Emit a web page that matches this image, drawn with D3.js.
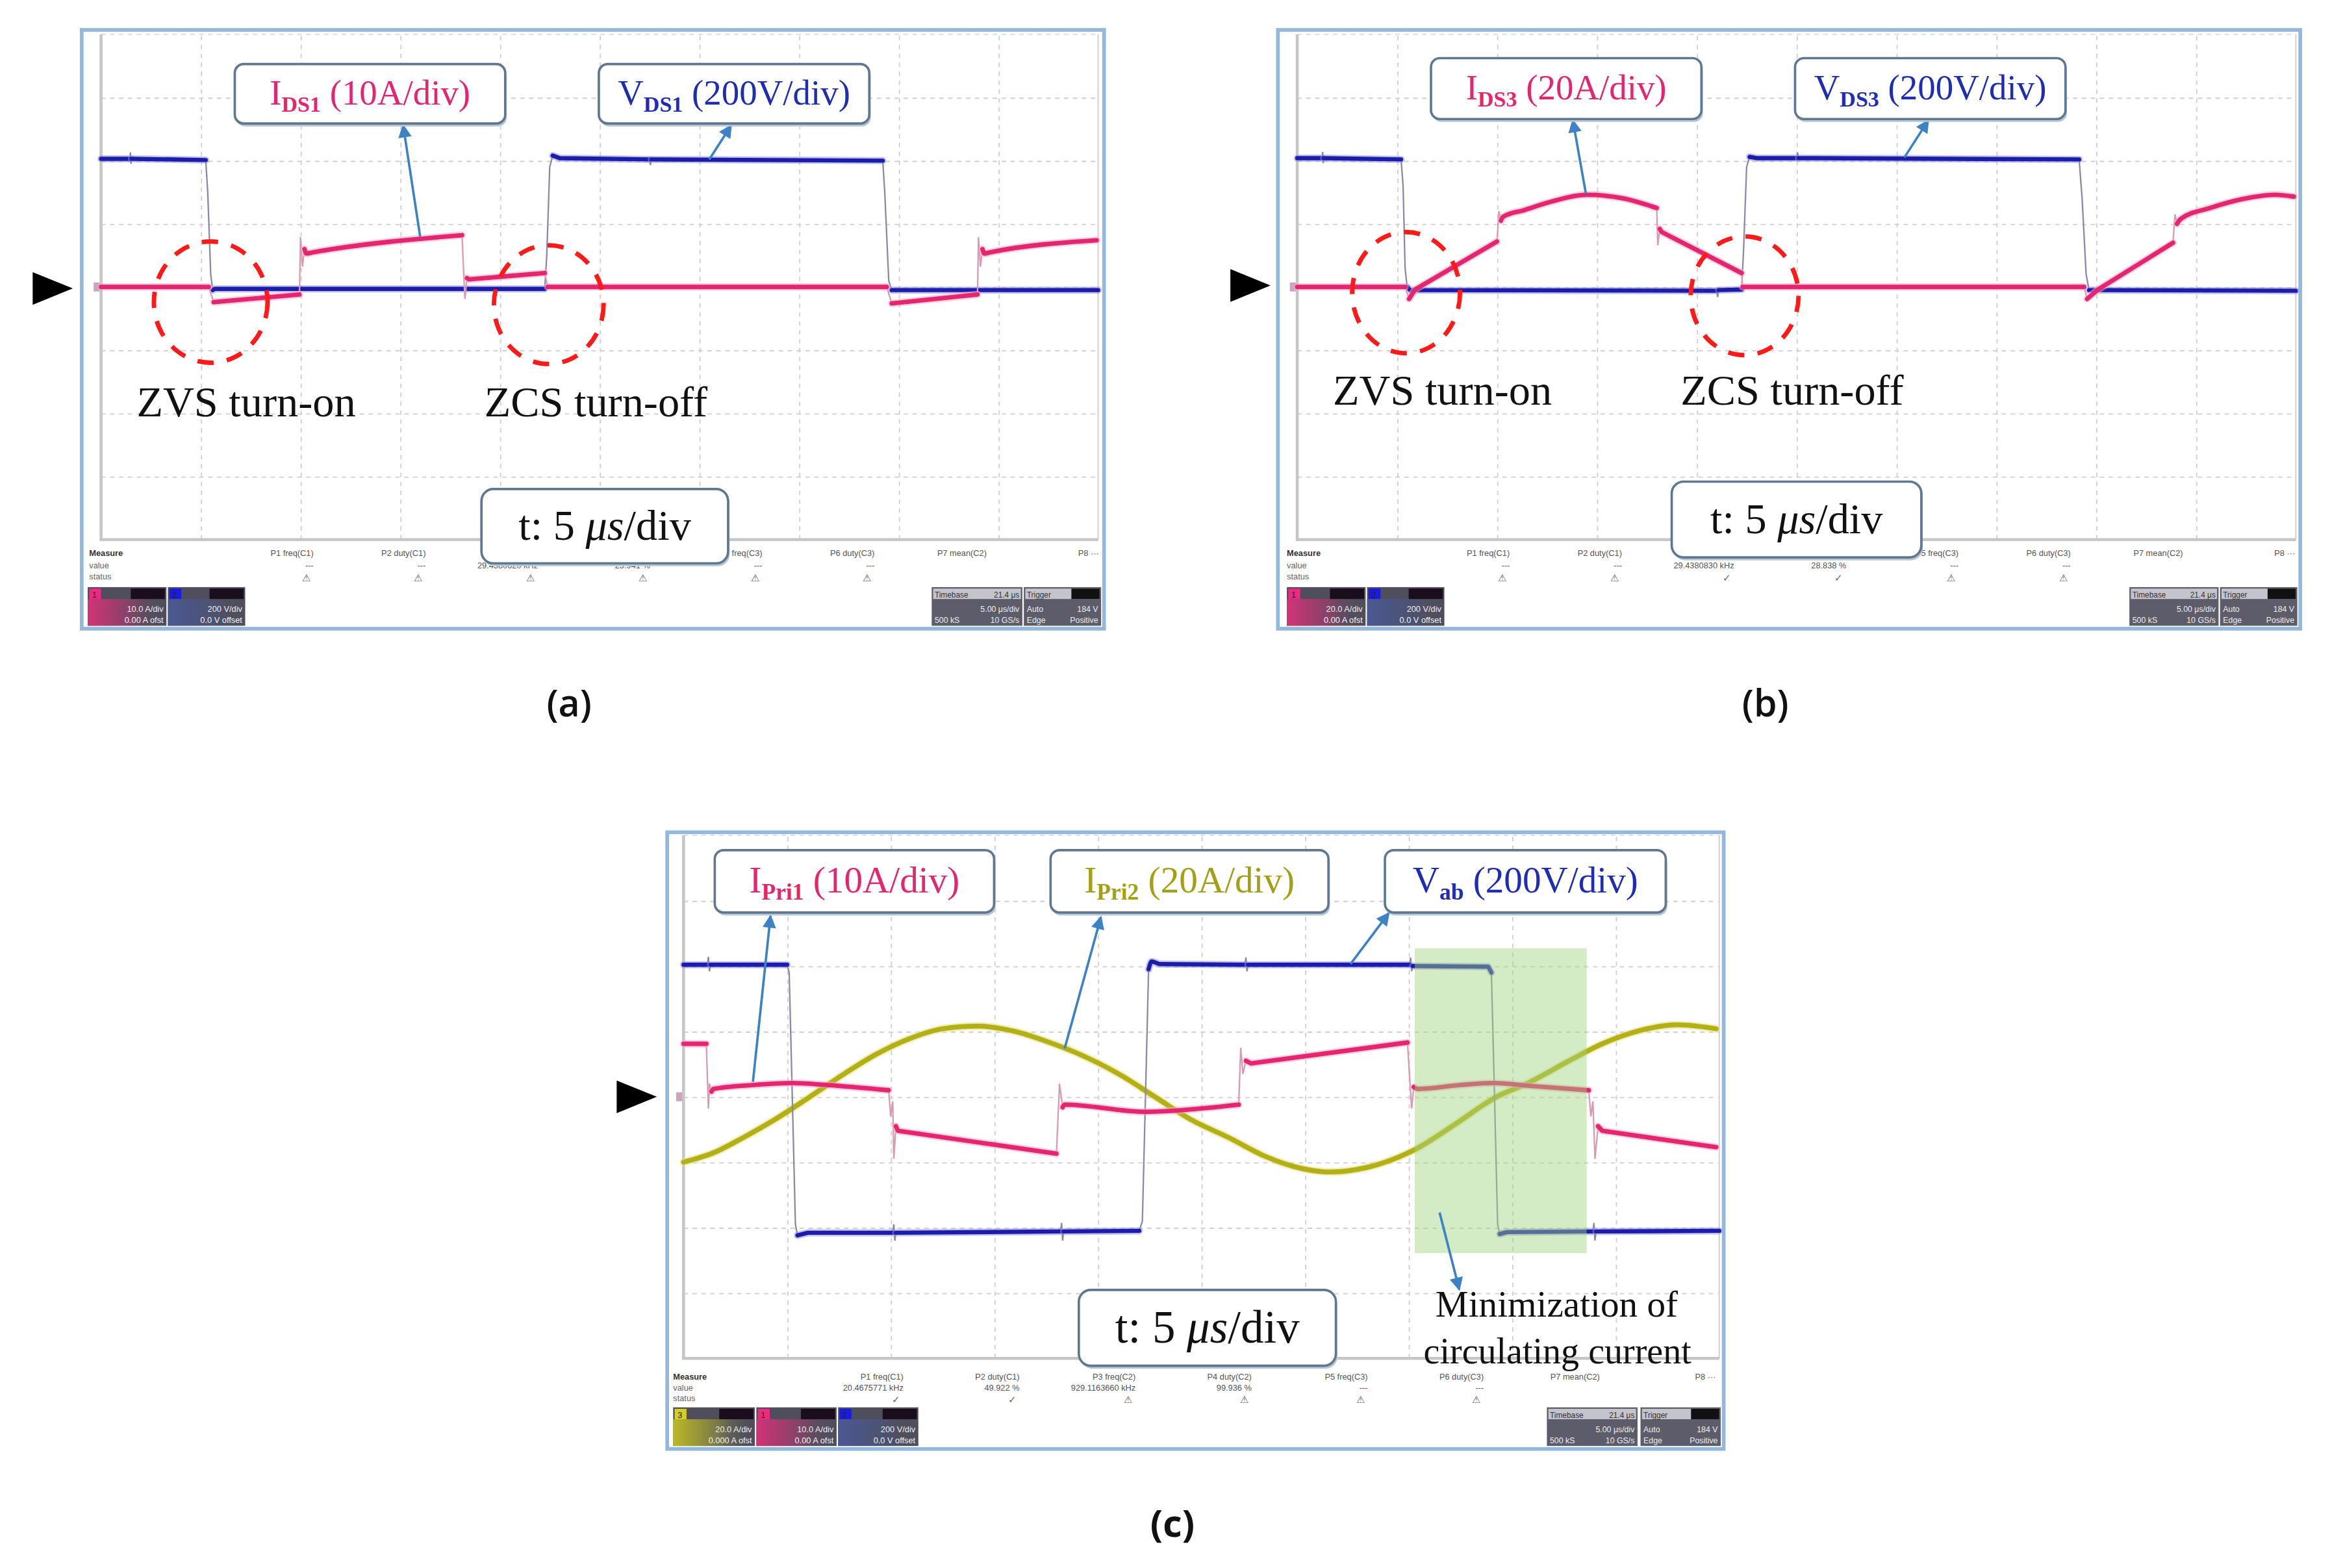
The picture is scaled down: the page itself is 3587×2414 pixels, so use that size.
<!DOCTYPE html>
<html>
<head>
<meta charset="utf-8">
<script src="https://cdn.jsdelivr.net/npm/d3@7"></script>
<style>
  body { margin: 0; background: #fff; }
  svg { display: block; }
</style>
</head>
<body>
<div id="chart"></div>
<script>
// Scope traces, x in divisions (0..10), y in divisions from the channel zero marker
const aVds1 = [[0, 2.03], [0.29, 2.03], [0.295, 2.13], [0.3, 1.95], [0.305, 2.03], [1.05, 2.01], [1.07, 1.5], [1.1, 0.2], [1.12, -0.05], [1.14, -0.03],
  [4.45, -0.03], [4.47, 0.5], [4.5, 1.9], [4.53, 2.08], [4.6, 2.04], [5.5, 2.02], [5.51, 1.93], [5.52, 2.02],
  [7.84, 2.0], [7.86, 1.5], [7.9, 0.1], [7.93, -0.05], [10, -0.05]];
const aIds1 = [[0, 0], [1.08, 0], [1.13, -0.24], [1.99, -0.12], [2.0, 0.79], [2.02, 0.32], [2.04, 0.6], [2.06, 0.53], [2.13, 0.55], [3.62, 0.82],
  [3.64, 0.12], [3.65, -0.19], [3.67, 0.14], [3.69, 0.12], [4.45, 0.22], [4.48, 0], [7.88, 0], [7.93, -0.26], [8.79, -0.12],
  [8.8, 0.79], [8.82, 0.32], [8.84, 0.6], [8.86, 0.53], [8.92, 0.55], [9.985, 0.74]];

const bVds3 = [[0, 2.04], [0.25, 2.04], [0.255, 2.14], [0.26, 1.96], [0.265, 2.04], [1.04, 2.02], [1.06, 1.6], [1.08, 0.3], [1.1, 0], [1.13, -0.05],
  [4.2, -0.06], [4.21, -0.16], [4.22, -0.05], [4.45, -0.04], [4.47, 0.6], [4.5, 1.9], [4.53, 2.06], [4.6, 2.04], [5.0, 2.04], [5.01, 2.13], [5.02, 2.04],
  [7.83, 2.02], [7.86, 1.4], [7.9, 0.2], [7.93, -0.05], [10, -0.06]];
const bIds3 = [[0, 0], [1.08, 0], [1.12, -0.19], [1.18, -0.04], [2.0, 0.72], [2.02, 1.2], [2.04, 1.05], [2.06, 1.11], [2.28, 1.22], [2.54, 1.35],
  [2.91, 1.46], [3.27, 1.4], [3.6, 1.25], [3.61, 0.66], [3.63, 0.92], [3.65, 0.87], [4.45, 0.22], [4.46, 0], [7.88, 0], [7.91, -0.19],
  [8.02, -0.04], [8.77, 0.7], [8.79, 1.15], [8.81, 1.0], [8.85, 1.08], [9.14, 1.25], [9.46, 1.39], [9.79, 1.46], [9.98, 1.43]];

const cVab = [[0, 2.02], [0.23, 2.02], [0.24, 2.14], [0.25, 1.92], [0.26, 2.02], [1.0, 2.02], [1.02, 1.9], [1.05, 0], [1.08, -1.95], [1.1, -2.12],
  [1.2, -2.08], [2.02, -2.08], [2.03, -1.95], [2.04, -2.2], [2.05, -2.08], [3.64, -2.06], [3.65, -1.93], [3.66, -2.2], [3.67, -2.06],
  [4.4, -2.05], [4.43, -1.9], [4.46, 0], [4.49, 1.95], [4.52, 2.07], [4.6, 2.03], [5.42, 2.02], [5.43, 2.13], [5.44, 1.92], [5.45, 2.02],
  [7.01, 2.02], [7.02, 2.13], [7.03, 1.92], [7.04, 2.0], [7.77, 1.99], [7.8, 1.9], [7.83, 0], [7.86, -1.95], [7.88, -2.1], [7.95, -2.07],
  [8.78, -2.06], [8.79, -1.93], [8.8, -2.2], [8.81, -2.06], [10, -2.05]];
const cIpri1 = [[0, 0.81], [0.22, 0.81], [0.23, 0.3], [0.24, -0.18], [0.25, 0.2], [0.27, 0.08], [0.29, 0.12], [0.67, 0.18], [1.05, 0.21], [1.38, 0.18],
  [1.98, 0.1], [2.0, -0.3], [2.02, -0.07], [2.03, -0.95], [2.05, -0.45], [2.07, -0.52], [3.6, -0.87], [3.63, 0.2], [3.66, -0.16], [3.68, -0.12],
  [4.46, -0.23], [4.99, -0.18], [5.36, -0.12], [5.38, 0.75], [5.4, 0.35], [5.43, 0.55], [5.48, 0.51], [6.99, 0.83], [7.01, 0.3], [7.03, -0.18],
  [7.05, 0.15], [7.09, 0.12], [7.5, 0.18], [7.82, 0.21], [8.22, 0.16], [8.74, 0.1], [8.76, -0.3], [8.78, -0.07], [8.8, -0.95], [8.83, -0.45],
  [8.87, -0.52], [9.97, -0.77]];
const cIpri2 = [[0, -1.0], [0.3, -0.85], [0.57, -0.63], [0.9, -0.33], [1.22, 0], [1.55, 0.35], [1.86, 0.65], [2.2, 0.9], [2.5, 1.04], [2.84, 1.08],
  [3.2, 1.0], [3.5, 0.85], [3.81, 0.66], [4.2, 0.35], [4.55, 0], [4.9, -0.35], [5.27, -0.63], [5.6, -0.9], [5.9, -1.07], [6.25, -1.15],
  [6.6, -1.08], [7.07, -0.8], [7.45, -0.42], [7.85, 0], [8.14, 0.2], [8.55, 0.55], [8.87, 0.81], [9.25, 1.02], [9.6, 1.1], [9.97, 1.04]];

// measurement bar texts
const headsAB = ['P1 freq(C1)', 'P2 duty(C1)', 'P3 freq(C3)', 'P4 duty(C3)', 'P5 freq(C3)', 'P6 duty(C3)', 'P7 mean(C2)', 'P8 ···'];
const headsC = ['P1 freq(C1)', 'P2 duty(C1)', 'P3 freq(C2)', 'P4 duty(C2)', 'P5 freq(C3)', 'P6 duty(C3)', 'P7 mean(C2)', 'P8 ···'];
const valsA = ['---', '---', '29.4380620 kHz', '23.941 %', '---', '---', '', ''];
const valsB = ['---', '---', '29.4380830 kHz', '28.838 %', '---', '---', '', ''];
const valsC = ['20.4675771 kHz', '49.922 %', '929.1163660 kHz', '99.936 %', '---', '---', '', ''];
const statA = ['⚠', '⚠', '⚠', '⚠', '⚠', '⚠'];
const statB = ['⚠', '⚠', '✓', '✓', '⚠', '⚠'];
const statC = ['✓', '✓', '⚠', '⚠', '⚠', '⚠'];

const PINK = '#e3266f', BLUE = '#1c1ca8', OLIVE = '#b2af18';
const TRACE = {
  blue: { core: BLUE, halo: '#9090e6', edge: '#8a8aa6', w: 2.8 },
  pink: { core: PINK, halo: '#f7a9c8', edge: '#d99ab4', w: 3 },
  yellow: { core: OLIVE, halo: '#e4e47e', edge: '#c8c870', w: 3.3 }
};
const SERIF = 'Liberation Serif, Times New Roman, serif';
const SANS = 'Liberation Sans, Arial, sans-serif';

const W = 1568, H = 1055;
const svg = d3.select('#chart').append('svg')
  .attr('width', 3587).attr('height', 2414)
  .attr('viewBox', `0 0 ${W} ${H}`);
svg.append('rect').attr('width', W).attr('height', H).attr('fill', '#fff');

const defs = svg.append('defs');
defs.append('marker').attr('id', 'arrowBlue')
  .attr('viewBox', '0 0 10 10').attr('refX', 9).attr('refY', 5)
  .attr('markerWidth', 11).attr('markerHeight', 9).attr('markerUnits', 'userSpaceOnUse')
  .attr('orient', 'auto')
  .append('path').attr('d', 'M0,0 L10,5 L0,10 Z').attr('fill', '#3d82c4');

function chipGradient(id, color) {
  const gr = defs.append('linearGradient').attr('id', id).attr('x1', 0).attr('x2', 1).attr('y1', 0).attr('y2', 0);
  gr.append('stop').attr('offset', '0%').attr('stop-color', color).attr('stop-opacity', 0.9);
  gr.append('stop').attr('offset', '55%').attr('stop-color', color).attr('stop-opacity', 0.35);
  gr.append('stop').attr('offset', '100%').attr('stop-color', '#505060').attr('stop-opacity', 0);
}
chipGradient('gPink', '#e0307a');
chipGradient('gBlue', '#4a5a9a');
chipGradient('gYel', '#c8c422');

function drawTrace(g, x, y, pts, st) {
  const line = d3.line().x((d) => x(d[0])).y((d) => y(d[1]));
  // fast edges show up as thin faint lines on the scope
  g.append('path').datum(pts).attr('d', line)
    .attr('fill', 'none').attr('stroke', st.edge).attr('stroke-width', 1);

  const runs = [];
  let cur = [pts[0]];
  for (let i = 1; i < pts.length; i++) {
    const dx = Math.abs(x(pts[i][0]) - x(pts[i - 1][0]));
    const dy = Math.abs(y(pts[i][1]) - y(pts[i - 1][1]));
    if (dy <= 2.5 * dx + 0.5) cur.push(pts[i]);
    else {
      if (cur.length > 1) runs.push(cur);
      cur = [pts[i]];
    }
  }
  if (cur.length > 1) runs.push(cur);

  const smooth = d3.line().x((d) => x(d[0])).y((d) => y(d[1])).curve(d3.curveMonotoneX);
  runs.forEach((r) => {
    const gen = r.length > 3 ? smooth : line; // short runs are straight ramps
    g.append('path').datum(r).attr('d', gen).attr('fill', 'none')
      .attr('stroke', st.halo).attr('stroke-width', st.w + 2).attr('stroke-opacity', 0.55)
      .attr('stroke-linecap', 'round').attr('stroke-linejoin', 'round');
    g.append('path').datum(r).attr('d', gen).attr('fill', 'none')
      .attr('stroke', st.core).attr('stroke-width', st.w)
      .attr('stroke-linecap', 'round').attr('stroke-linejoin', 'round');
  });
}

function labelBox(g, b) {
  g.append('rect').attr('x', b.x + 1).attr('y', b.y + 2).attr('width', b.w).attr('height', b.h)
    .attr('rx', 6).attr('fill', '#b8c6d4');
  g.append('rect').attr('x', b.x).attr('y', b.y).attr('width', b.w).attr('height', b.h)
    .attr('rx', 6).attr('fill', '#fff').attr('stroke', '#5d7890').attr('stroke-width', 1.6);
  const fs = b.fs;
  const t = g.append('text').attr('x', b.x + b.w / 2).attr('y', b.y + b.h / 2 + fs * 0.3)
    .attr('text-anchor', 'middle').attr('font-family', SERIF).attr('font-size', fs).attr('fill', b.color);
  t.append('tspan').text(b.main);
  t.append('tspan').attr('font-size', fs * 0.62).attr('font-weight', 'bold').attr('dy', fs * 0.2).text(b.sub);
  t.append('tspan').attr('dy', -fs * 0.2).text(' ' + b.rest);
}

function timeBox(g, tb) {
  g.append('rect').attr('x', tb.x + 1).attr('y', tb.y + 2).attr('width', tb.w).attr('height', tb.h)
    .attr('rx', 8).attr('fill', '#b8c6d4');
  g.append('rect').attr('x', tb.x).attr('y', tb.y).attr('width', tb.w).attr('height', tb.h)
    .attr('rx', 8).attr('fill', '#fff').attr('stroke', '#5d7890').attr('stroke-width', 1.6);
  const t = g.append('text').attr('x', tb.x + tb.w / 2).attr('y', tb.y + tb.h / 2 + tb.fs * 0.32)
    .attr('text-anchor', 'middle').attr('font-family', SERIF).attr('font-size', tb.fs).attr('fill', '#111');
  t.append('tspan').text('t: 5 ');
  t.append('tspan').attr('font-style', 'italic').text('μs');
  t.append('tspan').text('/div');
}

function smallText(g, x, y, s, opts = {}) {
  return g.append('text').attr('x', x).attr('y', y).text(s)
    .attr('font-family', SANS).attr('font-size', opts.fs || 5.6)
    .attr('font-weight', opts.bold ? 'bold' : 'normal')
    .attr('text-anchor', opts.anchor || 'start')
    .attr('fill', opts.fill || '#555');
}

function leftChip(g, c, y, h) {
  g.append('rect').attr('x', c.x).attr('y', y).attr('width', c.w).attr('height', h).attr('fill', '#4e4e5c');
  g.append('rect').attr('x', c.x).attr('y', y + 8).attr('width', c.w).attr('height', h - 8).attr('fill', `url(#${c.grad})`);
  g.append('rect').attr('x', c.x + 1).attr('y', y + 1).attr('width', 8).attr('height', 7).attr('fill', c.color);
  g.append('rect').attr('x', c.x + c.w - 24).attr('y', y + 1).attr('width', 23).attr('height', 7).attr('fill', '#1a0d1c');
  smallText(g, c.x + 3, y + 7, c.n, { fs: 5.5, fill: '#222' });
  smallText(g, c.x + c.w - 2, y + h * 0.64, c.l1, { fs: 5.6, fill: '#eee', anchor: 'end' });
  smallText(g, c.x + c.w - 2, y + h - 2, c.l2, { fs: 5.6, fill: '#f4f4f4', anchor: 'end' });
}

function rightChips(g, r, y, h) {
  g.append('rect').attr('x', r.x1).attr('y', y).attr('width', r.w1).attr('height', h).attr('fill', '#5c5c6a');
  g.append('rect').attr('x', r.x1 + 1).attr('y', y + 1).attr('width', r.w1 - 2).attr('height', 7).attr('fill', '#c4c4cc');
  smallText(g, r.x1 + 2, y + 7, 'Timebase', { fs: 5.2, fill: '#333' });
  smallText(g, r.x1 + r.w1 - 2, y + 7, '21.4 μs', { fs: 5.2, fill: '#333', anchor: 'end' });
  smallText(g, r.x1 + r.w1 - 2, y + h * 0.64, '5.00 μs/div', { fs: 5.4, fill: '#eee', anchor: 'end' });
  smallText(g, r.x1 + 2, y + h - 2, '500 kS', { fs: 5.4, fill: '#eee' });
  smallText(g, r.x1 + r.w1 - 2, y + h - 2, '10 GS/s', { fs: 5.4, fill: '#eee', anchor: 'end' });

  g.append('rect').attr('x', r.x2).attr('y', y).attr('width', r.w2).attr('height', h).attr('fill', '#5c5c6a');
  g.append('rect').attr('x', r.x2 + 1).attr('y', y + 1).attr('width', r.w2 - 2).attr('height', 7).attr('fill', '#c4c4cc');
  g.append('rect').attr('x', r.x2 + r.w2 - 20).attr('y', y + 1).attr('width', 19).attr('height', 7).attr('fill', '#111');
  smallText(g, r.x2 + 2, y + 7, 'Trigger', { fs: 5.2, fill: '#333' });
  smallText(g, r.x2 + 2, y + h * 0.64, 'Auto', { fs: 5.4, fill: '#eee' });
  smallText(g, r.x2 + r.w2 - 2, y + h * 0.64, '184 V', { fs: 5.4, fill: '#eee', anchor: 'end' });
  smallText(g, r.x2 + 2, y + h - 2, 'Edge', { fs: 5.4, fill: '#eee' });
  smallText(g, r.x2 + r.w2 - 2, y + h - 2, 'Positive', { fs: 5.4, fill: '#eee', anchor: 'end' });
}

function drawStatus(g, s) {
  ['Measure', 'value', 'status'].forEach((lab, i) => {
    smallText(g, s.labelX, s.rowY[i], lab, { bold: i === 0, fill: i === 0 ? '#333' : '#666' });
  });
  s.heads.forEach((h, i) => {
    const xr = s.headX + i * s.headDx;
    smallText(g, xr, s.rowY[0], h, { anchor: 'end' });
    if (s.vals[i]) smallText(g, xr, s.rowY[1], s.vals[i], { anchor: 'end' });
    if (s.stats[i]) smallText(g, xr - 5, s.rowY[2] + 1, s.stats[i], { anchor: 'middle', fs: 6.5, fill: '#666' });
  });
  s.chips.forEach((c) => leftChip(g, c, s.chipY, s.chipH));
  rightChips(g, s.right, s.chipY, s.chipH);
}

function drawPanel(p) {
  const g = svg.append('g');
  const [fx, fy, fw, fh] = p.frame;
  g.append('rect').attr('x', fx).attr('y', fy).attr('width', fw).attr('height', fh)
    .attr('fill', '#fff').attr('stroke', '#94b8dc').attr('stroke-width', 2.5);

  const [x0, x1, y0, y1] = p.plot;
  const x = d3.scaleLinear().domain([0, 10]).range([x0, x1]);
  const y = d3.scaleLinear().domain([-4, 4]).range([y1, y0]);

  // graticule
  const gx = g.append('g').attr('transform', `translate(0,${y1})`)
    .call(d3.axisBottom(x).tickValues(d3.range(1, 10)).tickSize(-(y1 - y0)).tickFormat(''));
  const gy = g.append('g').attr('transform', `translate(${x0},0)`)
    .call(d3.axisLeft(y).tickValues(d3.range(-3, 4)).tickSize(-(x1 - x0)).tickFormat(''));
  [gx, gy].forEach((a) => {
    a.select('.domain').remove();
    a.selectAll('line').attr('stroke', '#d0d0d0').attr('stroke-width', 0.8).attr('stroke-dasharray', '3,3');
  });
  g.append('line').attr('x1', x0).attr('x2', x1).attr('y1', y0).attr('y2', y0)
    .attr('stroke', '#dcdcdc').attr('stroke-width', 0.8).attr('stroke-dasharray', '3,3');
  g.append('line').attr('x1', x1).attr('x2', x1).attr('y1', y0).attr('y2', y1)
    .attr('stroke', '#d6d6d6').attr('stroke-width', 1);
  g.append('path').attr('d', `M${x0},${y0}V${y1}H${x1}`)
    .attr('fill', 'none').attr('stroke', '#c6c6c6').attr('stroke-width', 2);

  // channel zero marker
  g.append('rect').attr('x', x0 - 5).attr('y', y(0) - 3).attr('width', 4).attr('height', 6).attr('fill', '#c9a6bb');

  p.series.forEach((s) => drawTrace(g, x, y, s.pts, TRACE[s.st]));

  if (p.highlight) {
    const [hx0, hx1, hy0, hy1] = p.highlight;
    g.append('rect').attr('x', x(hx0)).attr('y', y(hy0)).attr('width', x(hx1) - x(hx0)).attr('height', y(hy1) - y(hy0))
      .attr('fill', '#9fd47f').attr('fill-opacity', 0.45);
  }

  (p.rings || []).forEach(([cx, cy, rx, ry]) => {
    g.append('ellipse').attr('cx', x(cx)).attr('cy', y(cy))
      .attr('rx', x(rx) - x(0)).attr('ry', y(0) - y(ry))
      .attr('fill', 'none').attr('stroke', '#ff1a1a').attr('stroke-width', 3)
      .attr('stroke-dasharray', '11,9');
  });

  p.arrows.forEach(([fxd, fyd, txd, tyd]) => {
    g.append('line').attr('x1', x(fxd)).attr('y1', y(fyd)).attr('x2', x(txd)).attr('y2', y(tyd))
      .attr('stroke', '#3d82c4').attr('stroke-width', 1.6).attr('marker-end', 'url(#arrowBlue)');
  });

  p.boxes.forEach((b) => labelBox(g, b));

  p.notes.forEach((n) => {
    g.append('text').attr('x', n.x).attr('y', n.y).text(n.t)
      .attr('font-family', SERIF).attr('font-size', n.fs).attr('fill', '#111');
  });

  drawStatus(g, p.status);
  timeBox(g, p.time);
  if (p.after) p.after(g);

  // trigger position arrow
  const [tx0, tx1, ty] = p.trig;
  g.append('path').attr('d', `M${tx0},${ty - 11}L${tx1},${ty}L${tx0},${ty + 11}Z`).attr('fill', '#000');

  g.append('text').attr('x', p.sub.x).attr('y', p.sub.y).text(p.sub.t)
    .attr('text-anchor', 'middle').attr('font-family', 'Open Sans, sans-serif')
    .attr('font-size', 25).attr('font-weight', p.sub.w).attr('fill', '#111');
}

const panels = [
  {
    frame: [55, 20, 688, 403], plot: [68, 739, 23, 363],
    series: [{ pts: aVds1, st: 'blue' }, { pts: aIds1, st: 'pink' }],
    rings: [[1.1, -0.24, 0.57, 0.96], [4.49, -0.28, 0.55, 0.94]],
    arrows: [[3.2, 0.8, 3.03, 2.56], [6.1, 2.02, 6.32, 2.56]],
    boxes: [
      { x: 158, y: 43, w: 182, h: 40, main: 'I', sub: 'DS1', rest: '(10A/div)', color: PINK, fs: 24 },
      { x: 403, y: 43, w: 182, h: 40, main: 'V', sub: 'DS1', rest: '(200V/div)', color: '#1f2db4', fs: 24 }
    ],
    notes: [{ x: 92, y: 280, t: 'ZVS turn-on', fs: 29 }, { x: 326, y: 280, t: 'ZCS turn-off', fs: 29 }],
    time: { x: 324, y: 329, w: 166, h: 50, fs: 29 },
    status: {
      labelX: 60, rowY: [374, 382.5, 390], heads: headsAB, vals: valsA, stats: statA, headX: 211, headDx: 75.5,
      chipY: 395, chipH: 26,
      chips: [
        { x: 59, w: 53, color: '#ee2a80', grad: 'gPink', n: '1', l1: '10.0 A/div', l2: '0.00 A ofst' },
        { x: 113, w: 52, color: '#1a1ae0', grad: 'gBlue', n: '2', l1: '200 V/div', l2: '0.0 V offset' }
      ],
      right: { x1: 627, w1: 61, x2: 689, w2: 52 }
    },
    trig: [22, 49, 194], sub: { t: '(a)', x: 383, y: 482, w: 600 }
  },
  {
    frame: [860, 20, 688, 403], plot: [873, 1545, 23, 363],
    series: [{ pts: bVds3, st: 'blue' }, { pts: bIds3, st: 'pink' }],
    rings: [[1.09, -0.09, 0.54, 0.96], [4.48, -0.14, 0.54, 0.94]],
    arrows: [[2.89, 1.48, 2.76, 2.64], [6.08, 2.05, 6.32, 2.64]],
    boxes: [
      { x: 963, y: 39, w: 182, h: 41, main: 'I', sub: 'DS3', rest: '(20A/div)', color: PINK, fs: 24 },
      { x: 1208, y: 39, w: 182, h: 41, main: 'V', sub: 'DS3', rest: '(200V/div)', color: '#1f2db4', fs: 24 }
    ],
    notes: [{ x: 897, y: 272, t: 'ZVS turn-on', fs: 29 }, { x: 1131, y: 272, t: 'ZCS turn-off', fs: 29 }],
    time: { x: 1125, y: 324, w: 168, h: 51, fs: 29 },
    status: {
      labelX: 866, rowY: [374, 382.5, 390], heads: headsAB, vals: valsB, stats: statB, headX: 1016, headDx: 75.5,
      chipY: 395, chipH: 26,
      chips: [
        { x: 866, w: 53, color: '#ee2a80', grad: 'gPink', n: '1', l1: '20.0 A/div', l2: '0.00 A ofst' },
        { x: 920, w: 52, color: '#1a1ae0', grad: 'gBlue', n: '2', l1: '200 V/div', l2: '0.0 V offset' }
      ],
      right: { x1: 1433, w1: 60, x2: 1494, w2: 52 }
    },
    trig: [828, 855, 192], sub: { t: '(b)', x: 1188, y: 482, w: 600 }
  },
  {
    frame: [449, 560, 711, 415], plot: [460, 1157, 562, 914],
    series: [{ pts: cIpri2, st: 'yellow' }, { pts: cVab, st: 'blue' }, { pts: cIpri1, st: 'pink' }],
    highlight: [7.06, 8.72, 2.27, -2.39],
    arrows: [[0.67, 0.23, 0.84, 2.77], [3.68, 0.74, 4.03, 2.75], [6.44, 2.03, 6.81, 2.81], [7.3, -1.77, 7.49, -2.95]],
    boxes: [
      { x: 481, y: 572, w: 188, h: 42, main: 'I', sub: 'Pri1', rest: '(10A/div)', color: PINK, fs: 25 },
      { x: 707, y: 572, w: 187, h: 42, main: 'I', sub: 'Pri2', rest: '(20A/div)', color: '#a3a016', fs: 25 },
      { x: 932, y: 572, w: 189, h: 42, main: 'V', sub: 'ab', rest: '(200V/div)', color: '#1f2db4', fs: 25 }
    ],
    notes: [],
    time: { x: 726, y: 868, w: 173, h: 51, fs: 31 },
    status: {
      labelX: 453, rowY: [928.5, 936, 943], heads: headsC, vals: valsC, stats: statC, headX: 608, headDx: 78.1,
      chipY: 947, chipH: 26,
      chips: [
        { x: 453, w: 55, color: '#d4d020', grad: 'gYel', n: '3', l1: '20.0 A/div', l2: '0.000 A ofst' },
        { x: 509, w: 54, color: '#ee2a80', grad: 'gPink', n: '1', l1: '10.0 A/div', l2: '0.00 A ofst' },
        { x: 564, w: 54, color: '#1a1ae0', grad: 'gBlue', n: '2', l1: '200 V/div', l2: '0.0 V offset' }
      ],
      right: { x1: 1041, w1: 61, x2: 1104, w2: 54 }
    },
    after: (g) => {
      g.append('text').attr('x', 966).attr('y', 886).text('Minimization of')
        .attr('font-family', SERIF).attr('font-size', 25).attr('fill', '#111');
      g.append('text').attr('x', 958).attr('y', 917.5).text('circulating current')
        .attr('font-family', SERIF).attr('font-size', 24.5).attr('fill', '#111');
    },
    trig: [415, 442, 738], sub: { t: '(c)', x: 789, y: 1034, w: 700 }
  }
];

panels.forEach(drawPanel);
</script>
</body>
</html>
